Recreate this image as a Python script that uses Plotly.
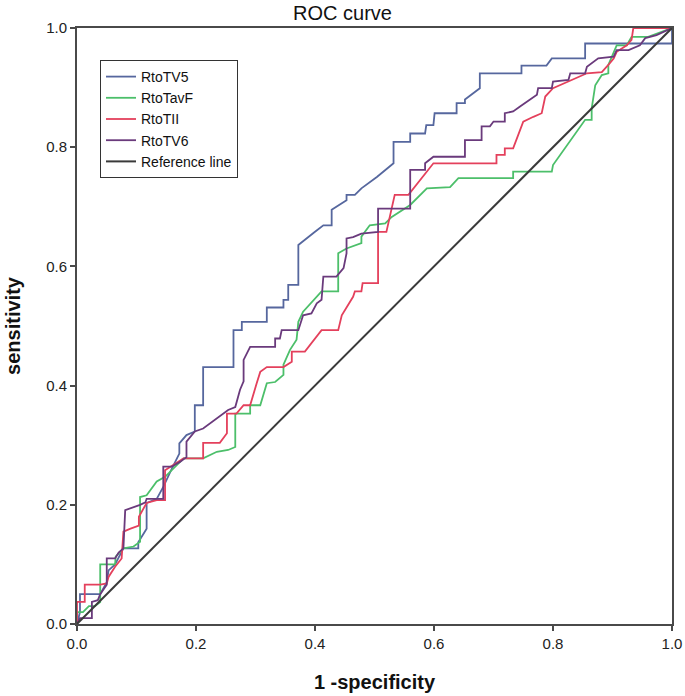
import plotly.graph_objects as go

# ---- data ----
tv5_x = [0, 0.005, 0.005, 0.039, 0.05, 0.053, 0.064, 0.078, 0.103, 0.103, 0.117, 0.117, 0.134, 0.145, 0.159,
         0.172, 0.172, 0.184, 0.198, 0.198, 0.212, 0.212, 0.263, 0.263, 0.277, 0.277, 0.319, 0.319, 0.347,
         0.347, 0.355, 0.355, 0.372, 0.372, 0.40, 0.414, 0.428, 0.428, 0.453, 0.453, 0.467, 0.478, 0.504,
         0.532, 0.532, 0.56, 0.56, 0.585, 0.587, 0.599, 0.601, 0.638, 0.638, 0.652, 0.652, 0.665, 0.677,
         0.677, 0.747, 0.747, 0.789, 0.798, 0.854, 0.854, 1.0, 1.0]
tv5_y = [0, 0.02, 0.05, 0.05, 0.07, 0.09, 0.10, 0.127, 0.127, 0.137, 0.16, 0.203, 0.21, 0.23, 0.26,
         0.286, 0.303, 0.317, 0.323, 0.367, 0.367, 0.431, 0.431, 0.493, 0.493, 0.507, 0.507, 0.531, 0.531,
         0.544, 0.544, 0.569, 0.569, 0.636, 0.658, 0.669, 0.669, 0.695, 0.711, 0.72, 0.72, 0.731, 0.75,
         0.773, 0.809, 0.809, 0.823, 0.823, 0.837, 0.837, 0.857, 0.857, 0.874, 0.874, 0.88, 0.89, 0.899,
         0.924, 0.924, 0.937, 0.937, 0.949, 0.949, 0.974, 0.974, 1.0]

avf_x = [0, 0, 0.01, 0.02, 0.03, 0.039, 0.039, 0.064, 0.065, 0.078, 0.095, 0.106, 0.106, 0.117, 0.134,
         0.148, 0.179, 0.212, 0.235, 0.254, 0.266, 0.266, 0.291, 0.291, 0.308, 0.319, 0.333, 0.347, 0.347,
         0.358, 0.369, 0.372, 0.38, 0.411, 0.439, 0.439, 0.453, 0.478, 0.478, 0.492, 0.518, 0.529, 0.56,
         0.588, 0.627, 0.641, 0.733, 0.733, 0.798, 0.80, 0.854, 0.865, 0.865, 0.871, 0.882, 0.893, 0.893,
         0.907, 0.924, 0.932, 0.96, 1.0]
avf_y = [0, 0.02, 0.02, 0.03, 0.03, 0.037, 0.10, 0.10, 0.113, 0.127, 0.13, 0.138, 0.213, 0.216, 0.239,
         0.247, 0.278, 0.278, 0.289, 0.292, 0.297, 0.353, 0.353, 0.367, 0.367, 0.404, 0.406, 0.418, 0.435,
         0.46, 0.477, 0.507, 0.524, 0.558, 0.558, 0.622, 0.63, 0.639, 0.65, 0.669, 0.672, 0.683, 0.703,
         0.731, 0.733, 0.748, 0.748, 0.759, 0.759, 0.77, 0.846, 0.846, 0.865, 0.904, 0.921, 0.924, 0.938,
         0.971, 0.971, 0.985, 0.985, 1.0]

tii_x = [0, 0, 0.013, 0.013, 0.039, 0.050, 0.053, 0.064, 0.075, 0.078, 0.09, 0.104, 0.104, 0.117, 0.134,
         0.148, 0.148, 0.159, 0.179, 0.212, 0.212, 0.240, 0.252, 0.252, 0.268, 0.280, 0.291, 0.302, 0.308,
         0.319, 0.347, 0.361, 0.361, 0.383, 0.411, 0.439, 0.445, 0.464, 0.467, 0.478, 0.480, 0.506, 0.506,
         0.520, 0.534, 0.557, 0.588, 0.599, 0.705, 0.705, 0.719, 0.719, 0.733, 0.739, 0.750, 0.767, 0.781,
         0.787, 0.800, 0.857, 0.882, 0.893, 0.902, 0.907, 0.924, 0.932, 0.935, 0.935, 1.0]
tii_y = [0, 0.037, 0.037, 0.066, 0.066, 0.068, 0.079, 0.096, 0.11, 0.155, 0.16, 0.165, 0.18, 0.203, 0.208,
         0.208, 0.258, 0.265, 0.278, 0.278, 0.304, 0.304, 0.32, 0.353, 0.353, 0.367, 0.367, 0.404, 0.423,
         0.431, 0.431, 0.44, 0.457, 0.457, 0.493, 0.493, 0.518, 0.549, 0.558, 0.558, 0.572, 0.572, 0.658,
         0.658, 0.72, 0.72, 0.759, 0.773, 0.773, 0.787, 0.787, 0.798, 0.798, 0.815, 0.843, 0.851, 0.857,
         0.885, 0.899, 0.924, 0.926, 0.938, 0.949, 0.960, 0.971, 0.980, 0.997, 1.0, 1.0]

tv6_x = [0, 0.005, 0.025, 0.025, 0.035, 0.039, 0.05, 0.05, 0.064, 0.07, 0.078, 0.081, 0.106, 0.115, 0.117,
         0.145, 0.145, 0.159, 0.173, 0.184, 0.184, 0.198, 0.212, 0.254, 0.266, 0.274, 0.280, 0.280, 0.291,
         0.333, 0.333, 0.341, 0.344, 0.372, 0.380, 0.394, 0.403, 0.411, 0.414, 0.436, 0.448, 0.453, 0.453,
         0.464, 0.478, 0.506, 0.506, 0.560, 0.560, 0.585, 0.585, 0.599, 0.613, 0.652, 0.652, 0.680, 0.680,
         0.694, 0.700, 0.719, 0.719, 0.733, 0.744, 0.773, 0.775, 0.798, 0.800, 0.826, 0.829, 0.854, 0.857,
         0.876, 0.902, 0.907, 0.927, 0.946, 0.955, 0.974, 1.0]
tv6_y = [0, 0.01, 0.01, 0.037, 0.04, 0.05, 0.066, 0.11, 0.11, 0.12, 0.127, 0.191, 0.20, 0.204, 0.21,
         0.21, 0.264, 0.264, 0.272, 0.28, 0.306, 0.323, 0.328, 0.359, 0.364, 0.393, 0.407, 0.443, 0.465,
         0.465, 0.479, 0.479, 0.493, 0.493, 0.518, 0.521, 0.538, 0.544, 0.583, 0.583, 0.597, 0.622, 0.647,
         0.649, 0.655, 0.658, 0.697, 0.697, 0.762, 0.762, 0.773, 0.784, 0.784, 0.784, 0.812, 0.812, 0.835,
         0.835, 0.843, 0.843, 0.857, 0.860, 0.868, 0.888, 0.899, 0.899, 0.910, 0.913, 0.924, 0.924, 0.935,
         0.949, 0.952, 0.963, 0.963, 0.971, 0.983, 0.988, 1.0]

ref_x = [0, 1]
ref_y = [0, 1]

names = ["RtoTV5", "RtoTavF", "RtoTII", "RtoTV6", "Reference line"]
colors = ["#56679e", "#4cbf6a", "#e4405c", "#6a3a7c", "#3a3a3a"]
series_x = [tv5_x, avf_x, tii_x, tv6_x, ref_x]
series_y = [tv5_y, avf_y, tii_y, tv6_y, ref_y]

fig = go.Figure()
for nm, c, xs, ys in zip(names, colors, series_x, series_y):
    fig.add_trace(go.Scatter(x=xs, y=ys, mode="lines", name=nm,
                             line=dict(color=c, width=2 if nm == "Reference line" else 1.8)))

font_family = "Arial, Liberation Sans, sans-serif"
axis_common = dict(range=[0, 1], tickvals=[0, 0.2, 0.4, 0.6, 0.8, 1.0],
                   ticktext=["0.0", "0.2", "0.4", "0.6", "0.8", "1.0"],
                   showline=True, linecolor="#4a4a4a", linewidth=2, mirror=True,
                   ticks="outside", ticklen=5, tickwidth=2, tickcolor="#4a4a4a",
                   showgrid=False, zeroline=False, automargin=False,
                   tickfont=dict(family=font_family, size=15, color="#222"))

fig.update_layout(
    width=685, height=696,
    margin=dict(l=77, r=13, t=28, b=72),
    paper_bgcolor="white", plot_bgcolor="white",
    font=dict(family=font_family, color="#111"),
    title=dict(text="ROC curve", x=0.5, xanchor="center", y=1 - 13 / 696, yanchor="middle",
               font=dict(family=font_family, size=20, color="#111")),
    xaxis=dict(title=dict(text="<b>1 -specificity</b>", font=dict(family=font_family, size=20, color="#111"),
                          standoff=24), **axis_common),
    yaxis=dict(title=dict(text="<b>sensitivity</b>", font=dict(family=font_family, size=20, color="#111"),
                          standoff=20), **axis_common),
    legend=dict(x=(100 - 77) / 595, y=(624 - 60) / 596, xanchor="left", yanchor="top",
                bgcolor="white", bordercolor="#333", borderwidth=1,
                font=dict(family=font_family, size=14, color="#111"),
                entrywidth=126, entrywidthmode="pixels",
                traceorder="normal", tracegroupgap=0),
    showlegend=True,
)

fig.write_html("out.html", config={"displayModeBar": False},
               post_script="document.body.style.margin='0px';document.body.style.overflow='hidden';")
